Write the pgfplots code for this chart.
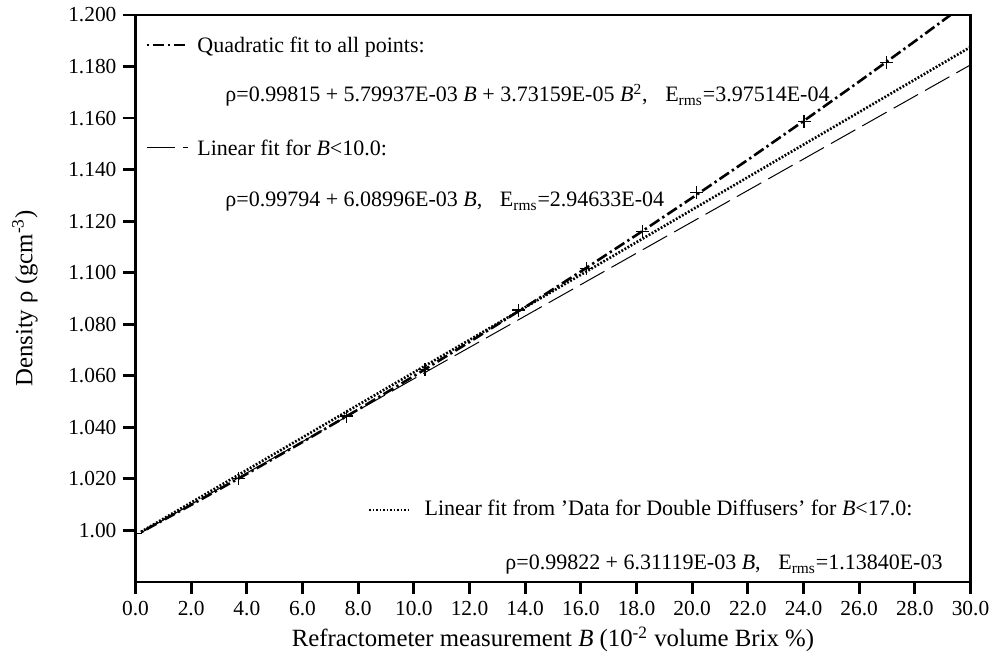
\documentclass[border=0pt]{standalone}
\usepackage{fontspec}
\setmainfont{Liberation Serif}
\usepackage{pgfplots}
\pgfplotsset{compat=1.18}

% quadratic fit, evaluated every 2 units of B
\pgfplotstableread{
B      rho
0.2    0.99931
2      1.00990
4      1.02194
6      1.03429
8      1.04693
10     1.05988
12     1.07312
14     1.08666
16     1.10049
18     1.11463
20     1.12906
22     1.14380
24     1.15883
26     1.17416
28     1.18979
30     1.20572
}\quadfit

% measured points
\pgfplotstableread{
B      rho
0.0    0.9988
3.69   1.0202
7.59   1.0444
10.40  1.0625
13.75  1.0855
16.19  1.1017
18.21  1.1159
20.16  1.1311
24.02  1.1586
26.99  1.1815
}\points

\begin{document}
\begin{tikzpicture}
\useasboundingbox (-67.75pt,-37.5pt) rectangle (431.25pt,291pt);
\begin{axis}[
  at={(0pt,0pt)}, anchor=south west,
  scale only axis, width=417.5pt, height=283.5pt,
  xmin=0, xmax=30, ymin=0.98, ymax=1.2,
  axis line style={line width=1.4pt},
  tick align=outside, tick pos=left,
  major tick length=6pt,
  every tick/.style={black, line width=1.4pt},
  xtick={0,2,...,30},
  xticklabels={0.0,2.0,4.0,6.0,8.0,10.0,12.0,14.0,16.0,18.0,20.0,22.0,24.0,26.0,28.0,30.0},
  ytick={1,1.02,1.04,1.06,1.08,1.1,1.12,1.14,1.16,1.18,1.2},
  yticklabels={1.00,1.020,1.040,1.060,1.080,1.100,1.120,1.140,1.160,1.180,1.200},
  tick label style={font=\fontsize{10.7}{12}\selectfont},
  xlabel={Refractometer measurement \textit{B} (10\textsuperscript{-2} volume Brix \%)},
  ylabel={Density ρ (gcm\textsuperscript{-3})},
  label style={font=\fontsize{12.4}{14}\selectfont},
  xlabel style={at={(axis description cs:0.5,0)}, anchor=base, yshift=-32.5pt, inner sep=0pt},
  ylabel style={at={(axis description cs:-0.1323,0.5)}, anchor=center},
  clip marker paths=true,
  every axis plot/.append style={black},
]
% quadratic fit
\addplot[line width=1.3pt, dash pattern=on 1.2pt off 1.8pt on 5.7pt off 1.8pt] table[x=B,y=rho] {\quadfit};
% linear fit B<10
\addplot[line width=0.5pt, dash pattern=on 14pt off 4pt] coordinates {(0.2,0.99916) (30,1.18064)};
% linear fit from double diffusers
\addplot[line width=1.3pt, dash pattern=on 0.9pt off 0.85pt] coordinates {(0.2,0.99948) (30,1.18756)};
% data points
\addplot[only marks, mark=+, mark size=3.25pt, mark options={line width=0.6pt}] table[x=B,y=rho] {\points};

% key samples
\addplot[forget plot, line width=1.3pt, dash pattern=on 1.2pt off 1.8pt on 5.7pt off 1.8pt] coordinates {(0.41,1.18836) (1.89,1.18836)};
\addplot[forget plot, line width=0.5pt, dash pattern=on 14pt off 4pt] coordinates {(0.41,1.14840) (1.89,1.14840)};
\addplot[forget plot, line width=1.3pt, dash pattern=on 0.9pt off 0.85pt] coordinates {(8.39,1.00794) (9.86,1.00794)};

\begin{scope}[every node/.style={font=\fontsize{11}{13}\selectfont, inner sep=0pt}]
\node[anchor=base west] at (axis cs:2.21,1.18526) {Quadratic fit to all points:};
\node[anchor=base west] at (axis cs:3.216,1.16624) {ρ=0.99815 + 5.79937E-03 \textit{B} + 3.73159E-05 \textit{B}\textsuperscript{2},\hspace{0.8em}E\textsubscript{rms}=3.97514E-04};
\node[anchor=base west] at (axis cs:2.21,1.14529) {Linear fit for \textit{B}<10.0:};
\node[anchor=base west] at (axis cs:3.216,1.12550) {ρ=0.99794 + 6.08996E-03 \textit{B},\hspace{0.8em}E\textsubscript{rms}=2.94633E-04};
\node[anchor=base east] at (axis cs:27.93,1.00561) {Linear fit from 'Data for Double Diffusers' for \textit{B}<17.0:};
\node[anchor=base east] at (axis cs:29.01,0.98466) {ρ=0.99822 + 6.31119E-03 \textit{B},\hspace{0.8em}E\textsubscript{rms}=1.13840E-03};
\end{scope}
\end{axis}
\end{tikzpicture}
\end{document}
